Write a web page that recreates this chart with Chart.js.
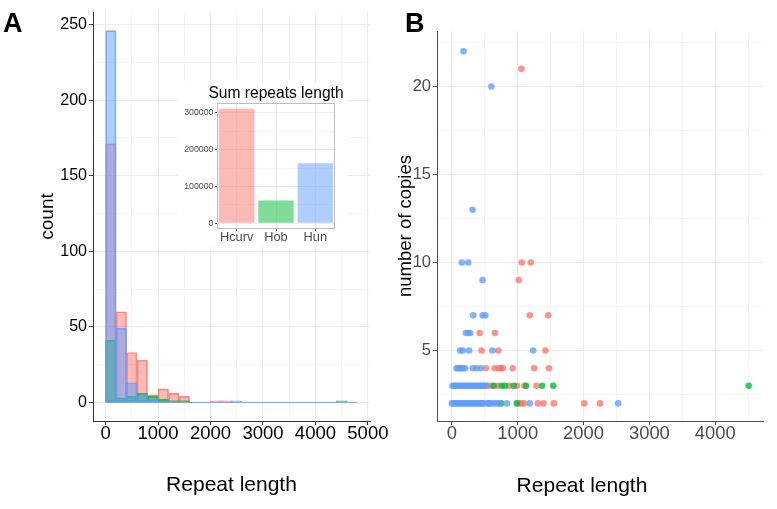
<!DOCTYPE html>
<html>
<head>
<meta charset="utf-8">
<script src="https://cdn.jsdelivr.net/npm/chart.js@4.4.0/dist/chart.umd.min.js"></script>
<style>
  body { margin: 0; background: #fff; width: 777px; height: 509px; position: relative; overflow: hidden;
         font-family: "Liberation Sans", Arial, sans-serif; }
  canvas { position: absolute; }
  .tag { position: absolute; font-weight: bold; font-size: 27px; line-height: 27px; color: #000; }
  .txt { position: absolute; color: #000; white-space: nowrap; transform: translate(-50%, -50%); }
</style>
</head>
<body>
<canvas id="histA" width="390" height="509" style="left:0;top:0"></canvas>
<canvas id="sumInset" width="169" height="164" style="left:178px;top:83px;background:#fff"></canvas>
<canvas id="copiesB" width="387" height="509" style="left:390px;top:0"></canvas>
<div class="tag" style="left:3px;top:10px">A</div>
<div class="tag" style="left:405px;top:10px">B</div>
<div class="txt" style="left:276px;top:93px;font-size:15.6px">Sum repeats length</div>
<div class="txt" style="left:582px;top:485px;font-size:21px">Repeat length</div>
<script>
const FONT = '"Liberation Sans", Arial, sans-serif';

// histogram, bins of 200 from 0 to 4800
const binCenters = [100, 300, 500, 700, 900, 1100, 1300, 1500, 1700, 1900, 2100, 2300,
  2500, 2700, 2900, 3100, 3300, 3500, 3700, 3900, 4100, 4300, 4500, 4700];
const hcurvCounts = [171, 60, 33, 28, 5, 9, 6, 4, 0, 0, 1, 1, 0, 0, 0, 0, 0, 0, 0, 0, 0, 0, 0, 0];
const hobCounts   = [41, 3, 4, 6, 4, 2, 1, 1, 0, 0, 0, 0, 0, 0, 0, 0, 0, 0, 0, 0, 0, 0, 1, 0];
const hunCounts   = [246, 49, 13, 5, 2, 1, 0, 0, 0, 0, 0, 0, 1, 0, 0, 0, 0, 0, 0, 0, 0, 0, 0, 0];
const histRange = [0, 4800];
const histXTicks = [0, 500, 1000, 1500, 2000, 2500, 3000, 3500, 4000, 4500, 5000];
const histYTicks = [0, 25, 50, 75, 100, 125, 150, 175, 200, 225, 250];

// inset
const speciesNames = ['Hcurv', 'Hob', 'Hun'];
const sumLengths = [311000, 62000, 163000];
const insetYTicks = [0, 50000, 100000, 150000, 200000, 250000, 300000];

// scatter: repeat length vs number of copies
const hcurvLen = [1057, 1062, 1200, 1016, 1184, 1463, 422, 655, 452, 706, 1422,
  518, 651, 712, 747, 773, 925, 1250, 1474,
  480, 544, 600, 697, 873, 991, 1103, 1285,
  460, 560, 1010, 1052, 1093, 1306, 1392, 1550, 2012, 2251];
const hcurvCopies = [21, 10, 10, 9, 7, 7, 6, 6, 5, 5, 5,
  4, 4, 4, 4, 4, 4, 4, 4,
  3, 3, 3, 3, 3, 3, 3, 3,
  2, 2, 2, 2, 2, 2, 2, 2, 2, 2];
const hobLen = [636, 758, 808, 941, 1128, 1372, 1540, 4507, 747, 986];
const hobCopies = [3, 3, 3, 3, 3, 3, 3, 3, 2, 2];
const hunLen = [178, 600, 315, 152, 249, 467, 325, 467, 508, 213, 249, 279, 127, 168, 264, 615, 1235,
  72, 95, 120, 145, 170, 200, 320, 376, 442,
  10, 35, 60, 85, 110, 135, 160, 185, 210, 235, 260, 285, 310, 335, 360, 385, 410, 435, 460, 490, 518,
  0, 25, 50, 75, 100, 125, 150, 175, 200, 225, 250, 275, 300, 325, 350, 375, 400, 425, 450, 480,
  520, 560, 600, 640, 680, 717, 834, 1184, 2526];
const hunCopies = [22, 20, 13, 10, 10, 9, 7, 7, 7, 6, 6, 6, 5, 5, 5, 5, 5,
  4, 4, 4, 4, 4, 4, 4, 4, 4,
  3, 3, 3, 3, 3, 3, 3, 3, 3, 3, 3, 3, 3, 3, 3, 3, 3, 3, 3, 3, 3,
  2, 2, 2, 2, 2, 2, 2, 2, 2, 2, 2, 2, 2, 2, 2, 2, 2, 2, 2, 2,
  2, 2, 2, 2, 2, 2, 2, 2, 2];
const copiesXTicks = [0, 500, 1000, 1500, 2000, 2500, 3000, 3500, 4000, 4500];
const copiesYTicks = [2.5, 5, 7.5, 10, 12.5, 15, 17.5, 20, 22.5];

const RED = [248, 118, 109], GREEN = [0, 186, 56], BLUE = [97, 156, 255];
const rgba = (c, a) => `rgba(${c[0]},${c[1]},${c[2]},${a})`;

const common = {
  responsive: false,
  animation: false,
  events: [],
  plugins: { legend: { display: false }, tooltip: { enabled: false } }
};

function setTicks(list) {
  return s => { s.ticks = list.map(v => ({ value: v })); };
}
function gridColor(step) {
  return c => (c.tick && c.tick.value % step === 0) ? '#EBEBEB' : '#F5F5F5';
}
function tickColor(step, col) {
  return c => (c.tick && c.tick.value % step === 0) ? col : 'rgba(0,0,0,0)';
}

// ---------- panel A ----------
function histSet(label, counts, color, order) {
  return {
    label, order,
    data: binCenters.map((x, i) => ({ x, y: counts[i] })),
    backgroundColor: rgba(color, 0.5),
    borderColor: rgba(color, 0.8),
    borderWidth: 1,
    borderSkipped: false,
    grouped: false,
    barPercentage: 1,
    categoryPercentage: 1
  };
}

new Chart(document.getElementById('histA'), {
  type: 'bar',
  data: {
    datasets: [
      histSet('Hcurv', hcurvCounts, RED, 3),
      histSet('Hob', hobCounts, GREEN, 2),
      histSet('Hun', hunCounts, BLUE, 1),
      {
        type: 'line', order: 0,
        data: histRange.map(x => ({ x, y: 0 })),
        borderColor: rgba(BLUE, 0.9), borderWidth: 1, pointRadius: 0
      }
    ]
  },
  options: {
    ...common,
    layout: { padding: { top: 12, right: 20, left: 0, bottom: 0 } },
    scales: {
      x: {
        type: 'linear', min: -240, max: 5040, offset: false,
        afterBuildTicks: setTicks(histXTicks),
        afterFit: s => { s.height = 88; s.paddingLeft = 0; s.paddingRight = 0; },
        grid: { offset: false, color: gridColor(1000), tickLength: 4, tickColor: tickColor(1000, '#333') },
        border: { display: true, color: '#333', width: 1 },
        ticks: {
          color: '#000', padding: 0, maxRotation: 0, autoSkip: false,
          font: { family: FONT, size: 18.5, lineHeight: 1 },
          callback: v => (v % 1000 === 0 ? String(v) : '')
        },
        title: { display: true, text: 'Repeat length', color: '#000',
          font: { family: FONT, size: 21 }, padding: { bottom: 11.4 } }
      },
      y: {
        min: -12.3, max: 258.3,
        afterBuildTicks: setTicks(histYTicks),
        afterFit: s => { s.width = 93; s.paddingTop = 0; s.paddingBottom = 0; },
        grid: { color: gridColor(50), tickLength: 4, tickColor: tickColor(50, '#333') },
        border: { display: true, color: '#333', width: 1 },
        ticks: {
          color: '#000', padding: 2,
          font: { family: FONT, size: 16 },
          callback: v => (v % 50 === 0 ? String(v) : '')
        },
        title: { display: true, text: 'count', color: '#000',
          font: { family: FONT, size: 19 }, padding: { top: 36.6 } }
      }
    }
  }
});

// ---------- inset ----------
const panelBox = {
  id: 'panelBox',
  afterDraw(chart) {
    const { ctx, chartArea: a } = chart;
    ctx.save();
    ctx.strokeStyle = '#BDBDBD';
    ctx.lineWidth = 1;
    ctx.strokeRect(a.left + 0.5, a.top + 0.5, a.width - 1, a.height - 1);
    ctx.restore();
  }
};

new Chart(document.getElementById('sumInset'), {
  type: 'bar',
  data: {
    labels: speciesNames,
    datasets: [{
      data: sumLengths,
      backgroundColor: [rgba(RED, 0.5), rgba(GREEN, 0.5), rgba(BLUE, 0.5)],
      borderWidth: 0,
      barPercentage: 0.9,
      categoryPercentage: 1
    }]
  },
  options: {
    ...common,
    layout: { padding: { top: 20, right: 12, left: 0, bottom: 0 } },
    scales: {
      x: {
        afterFit: s => { s.height = 18; s.paddingLeft = 0; s.paddingRight = 0; },
        grid: { offset: false, color: '#F0F0F0', tickLength: 2, tickColor: '#4D4D4D' },
        border: { display: false },
        ticks: {
          color: '#4D4D4D', padding: 0, maxRotation: 0, minRotation: 0, autoSkip: false,
          font: { family: FONT, size: 12.8, lineHeight: 1 }
        }
      },
      y: {
        min: -15550, max: 326550,
        afterBuildTicks: setTicks(insetYTicks),
        afterFit: s => { s.width = 39; s.paddingTop = 0; s.paddingBottom = 0; },
        grid: { color: gridColor(100000), tickLength: 2, tickColor: tickColor(100000, '#4D4D4D') },
        border: { display: false },
        ticks: {
          color: '#4D4D4D', padding: 1.5,
          font: { family: FONT, size: 8.8 },
          callback: v => (v % 100000 === 0 ? String(v) : '')
        }
      }
    }
  },
  plugins: [panelBox]
});

// ---------- panel B ----------
function pointSet(label, xs, ys, color, order) {
  return {
    label, order,
    data: xs.map((x, i) => ({ x, y: ys[i] })),
    backgroundColor: rgba(color, 0.78),
    borderWidth: 0,
    pointRadius: 3.3
  };
}

new Chart(document.getElementById('copiesB'), {
  type: 'scatter',
  data: {
    datasets: [
      pointSet('Hcurv', hcurvLen, hcurvCopies, RED, 3),
      pointSet('Hob', hobLen, hobCopies, GREEN, 2),
      pointSet('Hun', hunLen, hunCopies, BLUE, 1)
    ]
  },
  options: {
    ...common,
    layout: { padding: { top: 31, right: 14, left: 0, bottom: 0 } },
    scales: {
      x: {
        type: 'linear', min: -225, max: 4725,
        afterBuildTicks: setTicks(copiesXTicks),
        afterFit: s => { s.height = 88; s.paddingLeft = 0; s.paddingRight = 0; },
        grid: { color: gridColor(1000), tickLength: 4, tickColor: tickColor(1000, '#4D4D4D') },
        border: { display: true, color: '#4D4D4D', width: 1 },
        ticks: {
          color: '#4D4D4D', padding: 0, maxRotation: 0, autoSkip: false,
          font: { family: FONT, size: 18.4, lineHeight: 1 },
          callback: v => (v % 1000 === 0 ? String(v) : '')
        }
      },
      y: {
        min: 1, max: 23.15,
        afterBuildTicks: setTicks(copiesYTicks),
        afterFit: s => { s.width = 47; s.paddingTop = 0; s.paddingBottom = 0; },
        grid: { color: gridColor(5), tickLength: 4, tickColor: tickColor(5, '#4D4D4D') },
        border: { display: true, color: '#4D4D4D', width: 1 },
        ticks: {
          color: '#4D4D4D', padding: 2,
          font: { family: FONT, size: 16.5 },
          callback: v => (v % 5 === 0 ? String(v) : '')
        },
        title: { display: true, text: 'number of copies', color: '#000',
          font: { family: FONT, size: 18.5 }, padding: { top: 4.9 } }
      }
    }
  }
});
</script>
</body>
</html>
